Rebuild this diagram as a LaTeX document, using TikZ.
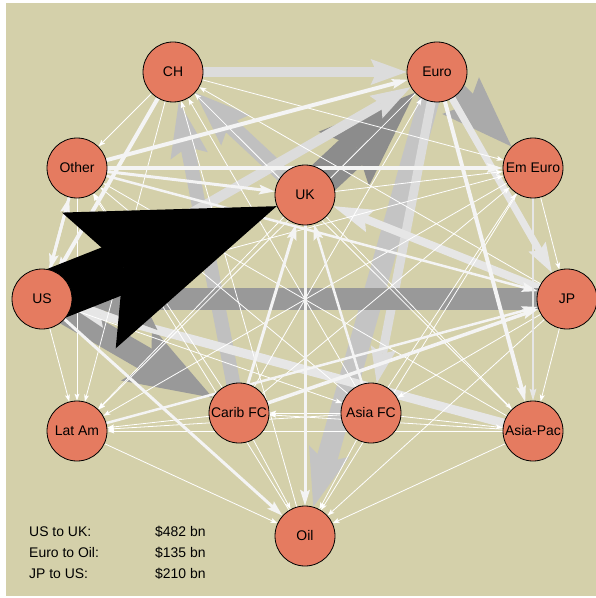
\documentclass[tikz,border=0pt]{standalone}
\usepackage{fontspec}
\setmainfont{Liberation Sans}
\usetikzlibrary{arrows.meta}

\definecolor{khaki}{RGB}{212,208,170}
\definecolor{salmon}{RGB}{229,123,96}
\definecolor{g140}{RGB}{140,140,140}
\definecolor{g153}{RGB}{153,153,153}
\definecolor{g170}{RGB}{170,170,170}
\definecolor{g192}{RGB}{192,192,192}
\definecolor{g196}{RGB}{196,196,196}
\definecolor{g220}{RGB}{220,220,220}
\definecolor{g230}{RGB}{230,230,230}
\definecolor{g244}{RGB}{244,244,244}

\pgfdeclarelayer{paper}
\pgfdeclarelayer{flows}
\pgfsetlayers{paper,flows,main}

\tikzset{
  region/.style={circle, draw=black, line width=0.8bp, fill=salmon,
    minimum size=60bp, inner sep=0pt, font=\fontsize{14}{16}\selectfont},
  legend/.style={anchor=base west, inner sep=0pt, font=\fontsize{14}{16}\selectfont},
  flow/.style args={#1/#2/#3/#4/#5}{draw=#1, line width=#2bp,
    -{Stealth[length=#3bp, width=#4bp, inset=#5bp, line width=0pt]}},
  thinflow/.style={flow={white/0.8/7/5/1.5}},
  whiteflow/.style={flow={g244/#1/16/10/3}},
}

\begin{document}
\begin{tikzpicture}[x=1bp, y=-1bp]
    \useasboundingbox (0,0) rectangle (596,598);
    % regions
    \node[region] (CH) at (173,72) {CH};
    \node[region] (Euro) at (437,72) {Euro};
    \node[region] (Other) at (77,168) {Other};
    \node[region] (EmEuro) at (533,168) {Em Euro};
    \node[region] (UK) at (305,195) {UK};
    \node[region] (US) at (42,299) {US};
    \node[region] (JP) at (567,299) {JP};
    \node[region] (LatAm) at (77,431) {Lat Am};
    \node[region] (CaribFC) at (239,413) {Carib FC};
    \node[region] (AsiaFC) at (371,413) {Asia FC};
    \node[region] (AsiaPac) at (533,431) {Asia-Pac};
    \node[region] (Oil) at (305,536) {Oil};
    \begin{pgfonlayer}{paper}
      \fill[khaki] (6,3) rectangle (596,596);
    \end{pgfonlayer}
    \begin{pgfonlayer}{flows}
      % grey flows
      \draw[flow={g140/34/97/74/17}] (UK.center) -- (Euro);
      \draw[flow={g170/20/72/52/12}] (Euro.center) -- (EmEuro);
      \draw[flow={g153/24/88/62/17}] (US.center) -- (CaribFC);
      \draw[flow={g192/16/55/42/9}] (UK.center) -- (CH);
      \draw[flow={g192/14/55/38/9}] (CaribFC.center) -- (CH);
      \draw[flow={g196/21/58/42/12}] (Euro.center) -- (Oil);
      \draw[flow={g220/10/36/26/6}] (CH.center) -- (Euro);
      \draw[flow={g220/10/40/26/6}] (US.center) -- (Euro);
      \draw[flow={g220/9/36/26/6}] (Euro.center) -- (AsiaFC);
      \draw[flow={g230/8/40/24/6}] (JP.center) -- (UK);
      \draw[flow={g230/7/30/20/5}] (Euro.center) -- (JP);
      \draw[flow={g230/9/36/24/6}] (AsiaPac.center) -- (US);
      \draw[flow={g153/22/85/62/15}] (JP.center) -- (US);
      % small flows
      \foreach \a/\b in {CH/Other, CH/EmEuro, JP/CH, CH/LatAm, AsiaFC/CH,
          AsiaPac/CH, Oil/CH, Euro/LatAm, CaribFC/Euro, Other/LatAm,
          CaribFC/Other, AsiaFC/Other, AsiaPac/Other, Oil/Other, UK/EmEuro,
          US/EmEuro, EmEuro/JP, EmEuro/LatAm, CaribFC/EmEuro, AsiaFC/EmEuro,
          EmEuro/Oil, UK/LatAm, UK/AsiaPac, US/LatAm, US/AsiaFC, JP/AsiaFC,
          JP/AsiaPac, JP/Oil, CaribFC/LatAm, AsiaFC/LatAm, AsiaPac/LatAm,
          LatAm/Oil, AsiaFC/CaribFC, AsiaPac/CaribFC, CaribFC/Oil,
          AsiaFC/AsiaPac, AsiaFC/Oil, AsiaPac/Oil}
        \draw[thinflow] (\a.center) -- (\b);
      % white flows
      \draw[whiteflow=4] (Other.center) -- (Euro);
      \draw[whiteflow=3] (Other.center) -- (EmEuro);
      \draw[whiteflow=3] (Other.center) -- (UK);
      \draw[whiteflow=2.5] (Other.center) -- (JP);
      \draw[whiteflow=3] (US.center) -- (Other);
      \draw[whiteflow=3] (Other.center) -- (US);
      \draw[whiteflow=4] (CH.center) -- (US);
      \draw[whiteflow=3] (UK.center) -- (Oil);
      \draw[whiteflow=3] (CaribFC.center) -- (UK);
      \draw[whiteflow=2.5] (AsiaFC.center) -- (UK);
      \draw[whiteflow=4] (Euro.center) -- (AsiaPac);
      \draw[flow={g230/2/12/7/2}] (EmEuro.center) -- (AsiaPac);
      \draw[whiteflow=3.5] (CaribFC.center) -- (JP);
      \draw[whiteflow=2.5] (LatAm.center) -- (JP);
      \draw[whiteflow=3] (US.center) -- (Oil);
      % the largest flow
      \draw[flow={black/52/202/146/37}] (US.center) -- (UK);
    \end{pgfonlayer}
    % key
    \node[legend] (key1) at (29,536) {US to UK:};
    \node[legend] (key2) at (29,557) {Euro to Oil:};
    \node[legend] (key3) at (29,578) {JP to US:};
    \node[legend] (val1) at (155,536) {\$482 bn};
    \node[legend] (val2) at (155,557) {\$135 bn};
    \node[legend] (val3) at (155,578) {\$210 bn};
\end{tikzpicture}
\end{document}
